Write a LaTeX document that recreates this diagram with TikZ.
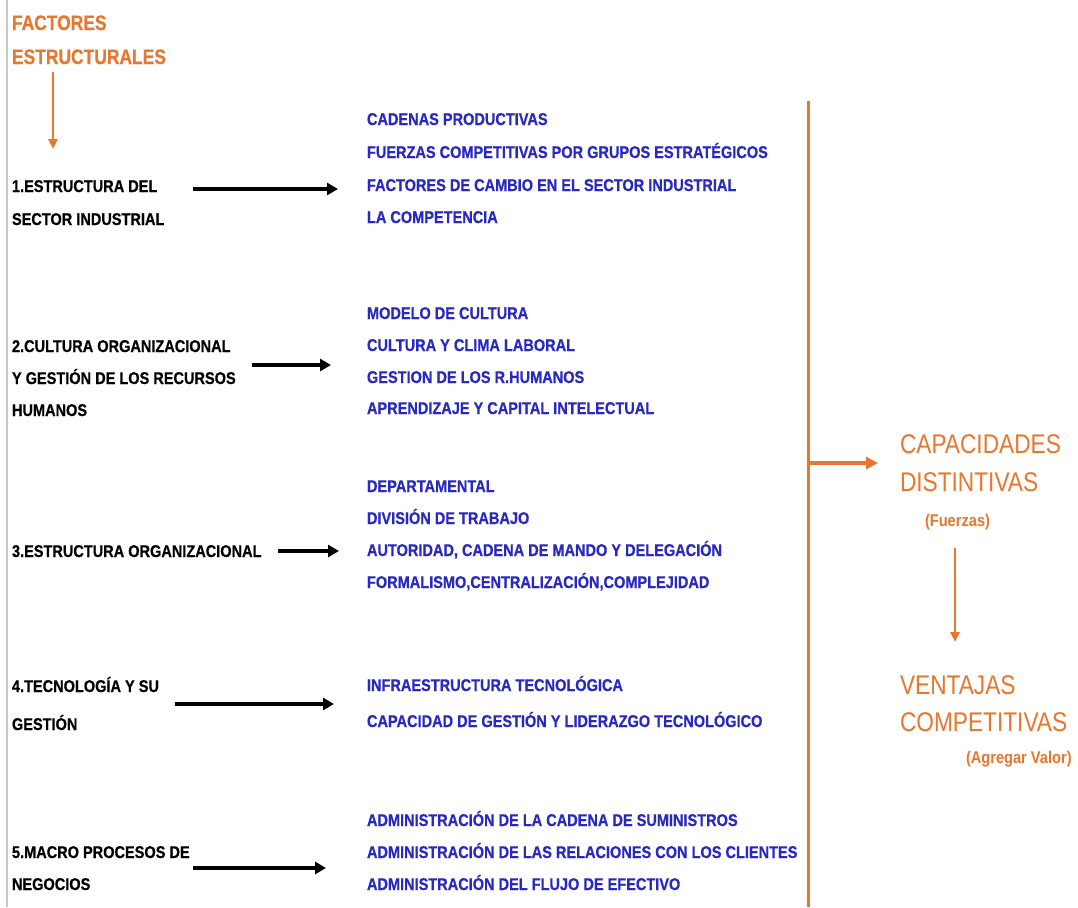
\documentclass[tikz,border=0pt]{standalone}
\usepackage{fontspec}
\setmainfont{Liberation Sans}
\newfontfamily\condsans{Liberation Sans}[FakeStretch=0.855, BoldFeatures={FakeBold=0.6}]
\newfontfamily\headsans{Liberation Sans}[FakeStretch=0.83, BoldFeatures={FakeBold=0.4}]
\newfontfamily\widesans{Liberation Sans}[FakeStretch=0.84]
\newfontfamily\notesans{Liberation Sans}[FakeStretch=0.86]
\usetikzlibrary{arrows.meta}
\definecolor{listblue}{RGB}{40,40,195}
\definecolor{accent}{RGB}{232,118,44}
\definecolor{edgegray}{RGB}{200,200,200}

\begin{document}
\begin{tikzpicture}[x=1pt,y=-1pt,
  txt/.style={anchor=base west, inner sep=0pt, outer sep=0pt},
  itemtxt/.style={txt, font=\condsans\bfseries\fontsize{17}{20}\selectfont},
  listtxt/.style={txt, text=listblue, font=\condsans\bfseries\fontsize{17}{20}\selectfont},
  headtxt/.style={txt, text=accent, font=\headsans\bfseries\fontsize{21}{24}\selectfont},
  goaltxt/.style={txt, text=accent, font=\widesans\fontsize{27}{30}\selectfont},
  notetxt/.style={txt, text=accent, font=\notesans\bfseries\fontsize{17}{20}\selectfont},
  linkarrow/.style={line width=3.2pt, -{Triangle[length=11pt,width=12pt]}},
  flowarrow/.style={draw=accent, line width=2.6pt, -{Triangle[length=10pt,width=9pt]}},
  bigflow/.style={draw=accent, line width=3.6pt, -{Triangle[length=12pt,width=12pt]}},
]
\useasboundingbox (0,0) rectangle (1078,907);
\fill[white] (0,0) rectangle (1078,907);
% left page border
\draw[edgegray, line width=1.5pt] (7,0) -- (7,907);

% heading
\node[headtxt] (fac1) at (12,30) {FACTORES};
\node[headtxt] (fac2) at (12,64) {ESTRUCTURALES};
\coordinate (facA) at (53,72);
\coordinate (facB) at (53,149);
\draw[flowarrow] (facA) -- (facB);

% factor 1
\node[itemtxt] (s1a) at (12,192) {1.ESTRUCTURA DEL};
\node[itemtxt] (s1b) at (12,225) {SECTOR INDUSTRIAL};
\node[listtxt] (l1a) at (367,125) {CADENAS PRODUCTIVAS};
\node[listtxt] (l1b) at (367,158) {FUERZAS COMPETITIVAS POR GRUPOS ESTRATÉGICOS};
\node[listtxt] (l1c) at (367,191) {FACTORES DE CAMBIO EN EL SECTOR INDUSTRIAL};
\node[listtxt] (l1d) at (367,223) {LA COMPETENCIA};
\coordinate (a1s) at (193,189);
\coordinate (a1e) at (338,189);
\draw[linkarrow] (a1s) -- (a1e);

% factor 2
\node[itemtxt] (s2a) at (12,352) {2.CULTURA ORGANIZACIONAL};
\node[itemtxt] (s2b) at (12,384) {Y GESTIÓN DE LOS RECURSOS};
\node[itemtxt] (s2c) at (12,416) {HUMANOS};
\node[listtxt] (l2a) at (367,319) {MODELO DE CULTURA};
\node[listtxt] (l2b) at (367,351) {CULTURA Y CLIMA LABORAL};
\node[listtxt] (l2c) at (367,383) {GESTION DE LOS R.HUMANOS};
\node[listtxt] (l2d) at (367,414) {APRENDIZAJE Y CAPITAL INTELECTUAL};
\coordinate (a2s) at (252,365);
\coordinate (a2e) at (331,365);
\draw[linkarrow] (a2s) -- (a2e);

% factor 3
\node[itemtxt] (s3a) at (12,557) {3.ESTRUCTURA ORGANIZACIONAL};
\node[listtxt] (l3a) at (367,492) {DEPARTAMENTAL};
\node[listtxt] (l3b) at (367,524) {DIVISIÓN DE TRABAJO};
\node[listtxt] (l3c) at (367,556) {AUTORIDAD, CADENA DE MANDO Y DELEGACIÓN};
\node[listtxt] (l3d) at (367,588) {FORMALISMO,CENTRALIZACIÓN,COMPLEJIDAD};
\coordinate (a3s) at (278,551);
\coordinate (a3e) at (339,551);
\draw[linkarrow] (a3s) -- (a3e);

% factor 4
\node[itemtxt] (s4a) at (12,692) {4.TECNOLOGÍA Y SU};
\node[itemtxt] (s4b) at (12,730) {GESTIÓN};
\node[listtxt] (l4a) at (367,691) {INFRAESTRUCTURA TECNOLÓGICA};
\node[listtxt] (l4b) at (367,727) {CAPACIDAD DE GESTIÓN Y LIDERAZGO TECNOLÓGICO};
\coordinate (a4s) at (175,704);
\coordinate (a4e) at (334,704);
\draw[linkarrow] (a4s) -- (a4e);

% factor 5
\node[itemtxt] (s5a) at (12,858) {5.MACRO PROCESOS DE};
\node[itemtxt] (s5b) at (12,890) {NEGOCIOS};
\node[listtxt] (l5a) at (367,826) {ADMINISTRACIÓN DE LA CADENA DE SUMINISTROS};
\node[listtxt] (l5b) at (367,858) {ADMINISTRACIÓN DE LAS RELACIONES CON LOS CLIENTES};
\node[listtxt] (l5c) at (367,890) {ADMINISTRACIÓN DEL FLUJO DE EFECTIVO};
\coordinate (a5s) at (193,868);
\coordinate (a5e) at (326,868);
\draw[linkarrow] (a5s) -- (a5e);

% collecting bar and results
\coordinate (barTop) at (808,101);
\coordinate (barBot) at (808,907);
\coordinate (barMid) at (808,463);
\coordinate (capIn) at (878,463);
\draw[accent, line width=3pt] (barTop) -- (barBot);
\draw[bigflow] (barMid) -- (capIn);

\node[goaltxt] (cap1) at (900,453) {CAPACIDADES};
\node[goaltxt] (cap2) at (900,491) {DISTINTIVAS};
\node[notetxt] (cap3) at (925,526) {(Fuerzas)};
\coordinate (vtA) at (955,548);
\coordinate (vtB) at (955,642);
\draw[flowarrow] (vtA) -- (vtB);
\node[goaltxt] (ven1) at (900,694) {VENTAJAS};
\node[goaltxt] (ven2) at (900,731) {COMPETITIVAS};
\node[notetxt] (ven3) at (966,763) {(Agregar Valor)};
\end{tikzpicture}
\end{document}
